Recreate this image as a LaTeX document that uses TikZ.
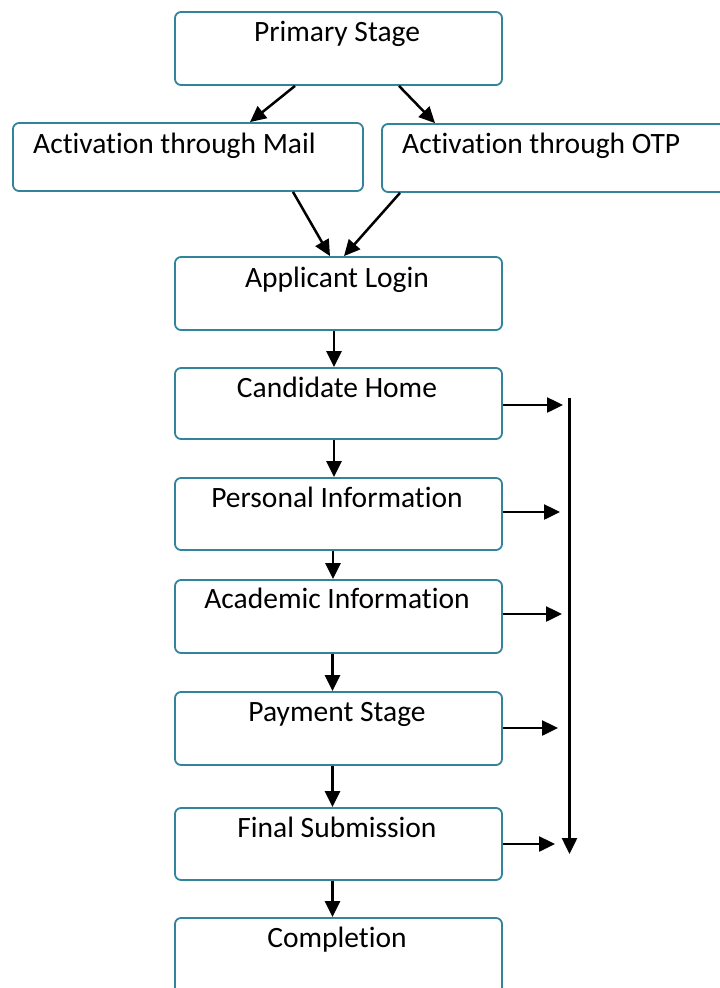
\documentclass[tikz,border=0pt]{standalone}
\usepackage{fontspec}
\setmainfont{Carlito}[Ligatures=NoCommon]
\usetikzlibrary{arrows.meta}
\definecolor{boxline}{HTML}{31849B}
\tikzset{
  stagebox/.style={draw=boxline, line width=1.8pt, rounded corners=6pt, fill=white, inner sep=0pt},
  lbl/.style={anchor=base, inner sep=0pt, font=\fontsize{29.5}{34}\selectfont},
  arr/.style={draw=black, line width=2.5pt, -{Triangle[length=16pt,width=15pt]}}
}
\begin{document}
\begin{tikzpicture}[x=1pt,y=-1pt]
\useasboundingbox (0,0) rectangle (720,988);
\clip (0,0) rectangle (720,988);
% boxes
\node[stagebox, minimum width=327pt, minimum height=73pt] (prim) at (338.5,48.5) {};
\node[stagebox, minimum width=350pt, minimum height=68pt] (mail) at (188,157) {};
\node[stagebox, minimum width=380pt, minimum height=68pt] (otp) at (572,158) {};
\node[stagebox, minimum width=327pt, minimum height=73pt] (login) at (338.5,293.5) {};
\node[stagebox, minimum width=327pt, minimum height=71pt] (cand) at (338.5,403.5) {};
\node[stagebox, minimum width=327pt, minimum height=72pt] (pers) at (338.5,514) {};
\node[stagebox, minimum width=327pt, minimum height=73pt] (acad) at (338.5,616.5) {};
\node[stagebox, minimum width=327pt, minimum height=73pt] (pay) at (338.5,728.5) {};
\node[stagebox, minimum width=327pt, minimum height=72pt] (fin) at (338.5,844) {};
\node[stagebox, minimum width=327pt, minimum height=80pt] (comp) at (338.5,958) {};
% labels
\node[lbl] (tprim) at (337,41) {Primary Stage};
\node[lbl, anchor=base west] (tmail) at (33,153) {Activat\kern0pt ion through Mail};
\node[lbl, anchor=base west] (totp) at (402,153) {Activat\kern0pt ion through OTP};
\node[lbl] (tlogin) at (337,287) {Applicant Login};
\node[lbl] (tcand) at (337,397) {Candidate Home};
\node[lbl] (tpers) at (337,507) {Personal Informat\kern0pt ion};
\node[lbl] (tacad) at (337,608) {Academic Informat\kern0pt ion};
\node[lbl] (tpay) at (337,721) {Payment Stage};
\node[lbl] (tfin) at (337,837) {Final Submission};
\node[lbl] (tcomp) at (337,947) {Completion};
% connectors
\draw[arr] ([xshift=-43.5pt]prim.south) -- ([xshift=62pt]mail.north);
\draw[arr] ([xshift=60.5pt]prim.south) -- ([xshift=-137pt]otp.north);
\draw[arr] ([xshift=105pt]mail.south) -- ([xshift=-8.5pt]login.north);
\draw[arr] ([xshift=-172pt]otp.south) -- ([xshift=5.5pt]login.north);
\draw[arr] ([xshift=-4.5pt]login.south) -- ([xshift=-4.5pt]cand.north);
\draw[arr] ([xshift=-4.5pt]cand.south) -- ([xshift=-4.5pt]pers.north);
\draw[arr] ([xshift=-5.5pt]pers.south) -- ([xshift=-5.5pt]acad.north);
\draw[arr] ([xshift=-6pt]acad.south) -- ([xshift=-6pt]pay.north);
\draw[arr] ([xshift=-6pt]pay.south) -- ([xshift=-6pt]fin.north);
\draw[arr] ([xshift=-6pt]fin.south) -- ([xshift=-6pt]comp.north);
% right side
\coordinate (ec) at (563,405);
\coordinate (ep) at (560,512);
\coordinate (ea) at (562,614);
\coordinate (ey) at (558,728);
\coordinate (ef) at (555,844);
\draw[arr] (cand.east |- ec) -- (ec);
\draw[arr] (pers.east |- ep) -- (ep);
\draw[arr] (acad.east |- ea) -- (ea);
\draw[arr] (pay.east |- ey) -- (ey);
\draw[arr] (fin.east |- ef) -- (ef);
\coordinate (vtop) at (569.5,398);
\coordinate (vbot) at (569.5,854);
\draw[arr] (vtop) -- (vbot);
\end{tikzpicture}
\end{document}
